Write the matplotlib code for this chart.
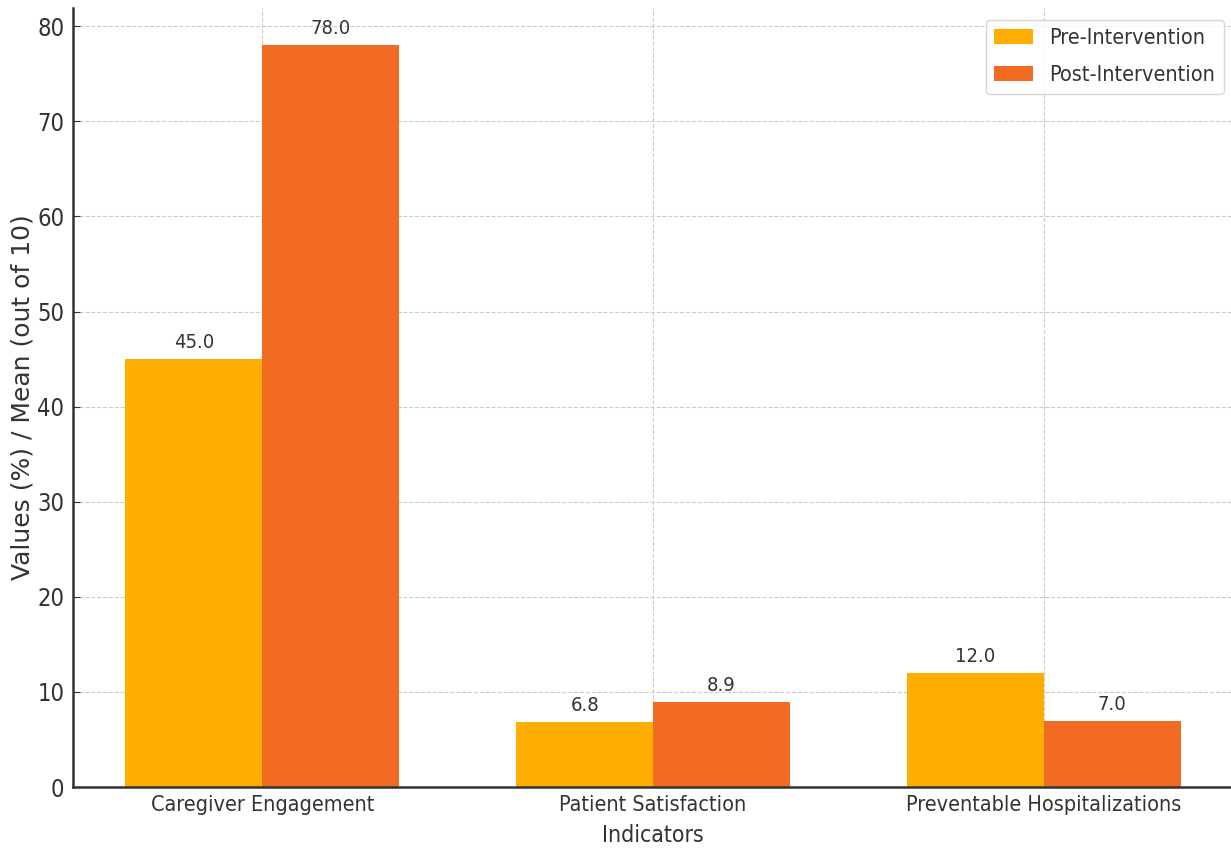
import matplotlib
matplotlib.use("Agg")
import matplotlib.pyplot as plt
import numpy as np

# data
indicators = ["Caregiver Engagement", "Patient Satisfaction", "Preventable Hospitalizations"]
pre_values = [45.0, 6.8, 12.0]
post_values = [78.0, 8.9, 7.0]
series_names = ["Pre-Intervention", "Post-Intervention"]
colors = ["#FFAE00", "#F26B22"]

TXT = "#333333"

fig = plt.figure(figsize=(12.31, 8.5), dpi=100)
ax = fig.add_axes([0.059, 0.074, 0.943, 0.9165])

x = np.arange(len(indicators))
width = 0.35
bars_pre = ax.bar(x - width / 2, pre_values, width, color=colors[0], label=series_names[0], zorder=2)
bars_post = ax.bar(x + width / 2, post_values, width, color=colors[1], label=series_names[1], zorder=2)

# value labels on top of each bar
for bars in (bars_pre, bars_post):
    for b in bars:
        h = b.get_height()
        ax.annotate(f"{h:.1f}", (b.get_x() + b.get_width() / 2, h),
                    xytext=(0, 5), textcoords="offset points",
                    ha="center", va="bottom", fontsize=14.5, color=TXT,
                    fontstretch="condensed")

ax.set_xticks(x)
ax.set_xticklabels(indicators, fontsize=15.5, color=TXT, fontstretch="condensed")
ax.set_yticks(np.arange(0, 90, 10))
ax.tick_params(axis="y", labelsize=17, labelcolor=TXT, direction="in", length=5, pad=6, color=TXT)
ax.tick_params(axis="x", direction="in", length=5, pad=6, color=TXT)
for lbl in ax.get_yticklabels():
    lbl.set_fontstretch("condensed")
ax.set_xlim(-0.485, 2.485)
ax.set_ylim(0, 81.9)

ax.set_xlabel("Indicators", fontsize=16.5, color=TXT, fontstretch="condensed", labelpad=6)
ax.set_ylabel("Values (%) / Mean (out of 10)", fontsize=18, color=TXT, labelpad=2)

ax.grid(True, linestyle="--", color="#cccccc", linewidth=0.8, zorder=0)
ax.set_axisbelow(True)
for side in ["top", "right"]:
    ax.spines[side].set_visible(False)
for side in ["left", "bottom"]:
    ax.spines[side].set_color(TXT)
    ax.spines[side].set_linewidth(1.8)

leg = ax.legend(loc="upper right", prop={"size": 15.5, "stretch": "condensed"},
                labelspacing=0.8, borderpad=0.4, handlelength=1.8, handletextpad=0.75,
                bbox_to_anchor=(1.001, 0.999))
for t in leg.get_texts():
    t.set_color(TXT)

fig.savefig("out.png", dpi=100)
